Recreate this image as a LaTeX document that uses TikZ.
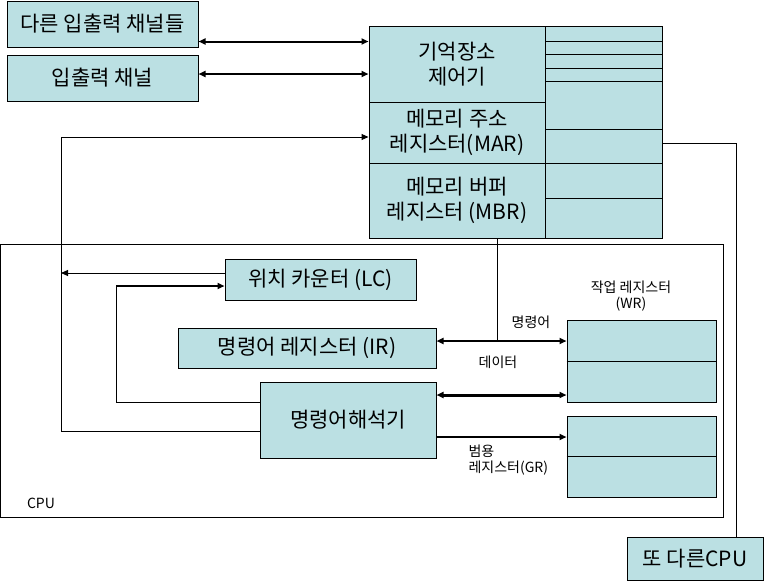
\documentclass[tikz,border=0pt]{standalone}
\usepackage{fontspec}
\setmainfont{Noto Sans CJK KR}
\usetikzlibrary{arrows.meta}
\definecolor{cellblue}{RGB}{187,224,227}
\tikzset{
  cell/.style={draw, fill=cellblue, line width=1pt, inner sep=0pt},
  big/.style={font=\fontsize{21}{25}\selectfont, align=center},
  small/.style={font=\fontsize{14}{16}\selectfont, align=center},
  link/.style={line width=1pt},
  tip/.tip={Triangle[length=7pt,width=6pt]},
  bus/.style={line width=2pt, tip-tip},
  fatbus/.style={line width=3pt, tip-tip},
  feed/.style={line width=2pt, -tip},
}
\begin{document}
\begin{tikzpicture}[x=1pt,y=-1pt]
  \useasboundingbox (0,0) rectangle (766,582);
  % I/O channels
  \node[cell,big,minimum width=191pt,minimum height=46pt] (others) at (102.5,24) {다른 입출력 채널들};
  \node[cell,big,minimum width=191pt,minimum height=46pt] (iochan) at (102.5,78) {입출력 채널};
  % Memory unit
  \node[cell,big,minimum width=176pt,minimum height=76pt] (memctl) at (457,64) {기억장소\\제어기};
  \node[cell,big,minimum width=176pt,minimum height=61pt] (mar) at (457,132.5) {메모리 주소\\레지스터(MAR)};
  \node[cell,big,minimum width=176pt,minimum height=75pt] (mbr) at (457,200.5) {메모리 버퍼\\레지스터 (MBR)};
  \draw[cell] (545,26) rectangle (662,238);
  \foreach \y in {41,54,68,81,129,163,198}
    \draw[link] (545,\y) -- (662,\y);
  \coordinate (marout) at (662,143);
  % CPU
  \draw[link] (0.5,244) rectangle (723,517);
  \node[small] (cpu) at (41,503) {CPU};
  \node[cell,big,minimum width=191pt,minimum height=41pt] (lc) at (320.5,279.5) {위치 카운터 (LC)};
  \node[cell,big,minimum width=258pt,minimum height=40pt] (ir) at (307,348) {명령어 레지스터 (IR)};
  \node[cell,big,minimum width=176pt,minimum height=76pt] (dec) at (348,420) {명령어해석기};
  \node[cell,minimum width=149pt,minimum height=82pt] (wr) at (641.5,361) {};
  \draw[link] (wr.west) -- (wr.east);
  \node[cell,minimum width=149pt,minimum height=81pt] (gr) at (641.5,456.5) {};
  \draw[link] (gr.west) -- (gr.east);
  \node[small] (wrlabel) at (631,296) {작업 레지스터\\(WR)};
  \node[small] (cmdlabel) at (531,322) {명령어};
  \node[small] (datalabel) at (498,362) {데이터};
  \node[small,align=left,anchor=north west] (grlabel) at (465,441) {범용\\레지스터(GR)};
  % Another CPU
  \node[cell,big,minimum width=136pt,minimum height=43pt] (othercpu) at (695,558.5) {또 다른CPU};
  % Connectors
  \coordinate (lcol) at (61,0);
  \coordinate (fcol) at (116,0);
  \coordinate (marin) at ([yshift=-4.5pt]mar.west);
  \coordinate (lcin) at ([yshift=-6.5pt]lc.west);
  \coordinate (irout) at ([yshift=7pt]ir.east);
  \draw[bus] ([yshift=6pt]others.south east) -- ([yshift=6pt]others.south east -| memctl.west);
  \draw[bus] ([yshift=4pt]iochan.east) -- ([yshift=4pt]iochan.east -| memctl.west);
  \draw[link,-tip] ([yshift=-11pt]dec.west) -| (lcol |- marin) -- (marin);
  \draw[link,-tip] ([yshift=6.5pt]lc.west) -- ([yshift=6.5pt]lc.west -| lcol);
  \draw[link] ([yshift=18pt]dec.west) -| (fcol |- lcin);
  \draw[feed] (fcol |- lcin) -- (lcin);
  \draw[link] ([xshift=40pt]mbr.south) -- ([xshift=40pt]mbr.south |- irout);
  \draw[bus] (irout) -- (irout -| wr.west);
  \draw[fatbus] ([yshift=25pt]dec.east) -- ([yshift=25pt]dec.east -| wr.west);
  \draw[feed] ([yshift=-17pt]dec.east) -- ([yshift=-17pt]dec.east -| gr.west);
  \draw[link] (marout) -| ([xshift=41pt]othercpu.north);
\end{tikzpicture}
\end{document}
